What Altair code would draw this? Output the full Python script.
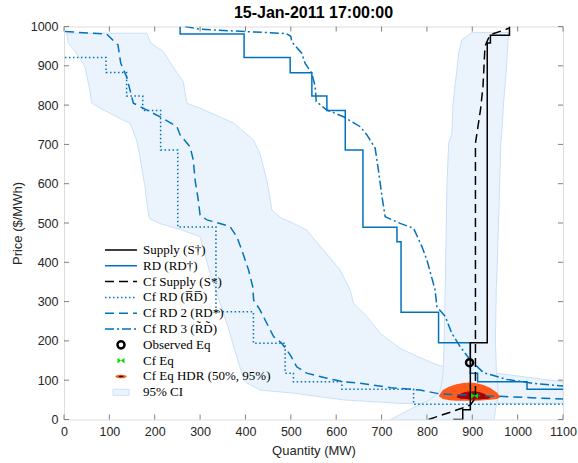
import altair as alt
import pandas as pd

# ---------------- data ----------------
x_ticks = [0, 100, 200, 300, 400, 500, 600, 700, 800, 900, 1000, 1100]
y_ticks = [0, 100, 200, 300, 400, 500, 600, 700, 800, 900, 1000]

# Supply (S-dagger), stepped
supply_q = [858, 879, 895.7, 933, 940, 982, 982]
supply_p = [0, 0, 25, 195, 958, 978, 1000]

# RD (RD-dagger), stepped
rd_q = [256, 397, 498.6, 546.4, 579.5, 620, 659, 734, 743, 825.7, 895.7, 911.8, 1020.7, 1100]
rd_p = [1000, 981, 921, 882, 823, 786, 686, 489, 452, 273, 195, 118, 96, 77]

# Cf Supply (S*)
cfs_q = [803.6, 877, 896, 907, 907, 918, 923.6, 928, 934, 940, 982]
cfs_p = [0, 28.5, 37, 55, 703, 787, 847, 949, 966, 979, 996]

# Cf RD (RD bar), stepped
cfrd_q = [2, 92.6, 138, 173.6, 213, 250.8, 335, 417.6, 487.5, 505.8, 612.6, 770.6, 1100]
cfrd_p = [921, 921, 883, 823, 786, 686, 490, 274, 194, 118, 96, 77, 38.7]

# Cf RD 2 (RD*)
cfrd2_q = [2.2, 94, 119, 125, 138, 153, 212, 249, 256, 278, 285, 289, 296, 300, 315, 337,
           366, 381, 392, 407, 416, 418, 432, 451, 462, 480, 499, 513, 535, 580, 616, 653,
           720, 785, 829, 896, 1100]
cfrd2_p = [987, 981, 953, 907, 872, 805, 770, 745, 724, 694, 660, 609, 558, 520, 508, 501,
           491, 465, 431, 380, 338, 304, 279, 236, 211, 194, 164, 134, 118, 105, 96, 92,
           81, 75, 65, 62, 52]

# Cf RD 3 (RD tilde)
cfrd3_q = [267, 300, 490, 500, 502, 524, 531.6, 546.4, 553.7, 556, 579.5, 616, 653, 667.8,
           686, 693, 701, 708, 741, 770.6, 789, 800, 818, 822, 840.5, 855, 873.6, 895.7,
           925, 976.6, 1035, 1100]
cfrd3_p = [1000, 993, 982, 975, 961, 932, 906, 881, 847, 809, 787.5, 770.5, 745, 724,
           690, 635, 567, 516, 499, 486.5, 440, 406, 330, 287, 262, 219, 185, 151,
           119, 102, 92, 85]

# 95% CI band around the Cf RD curves (per price level: left / right quantity)
band1_p = [983, 957, 936, 898, 889, 860, 838, 805, 792, 762, 754, 711, 677, 609, 592, 558,
           533, 512, 499, 491, 482, 465, 431, 380, 372, 330, 296, 262, 219, 194, 181, 160,
           140, 130, 118, 96, 95, 75, 67, 50, 41]
band1_lo = [6, 9.6, 25, 46, 48, 53, 57, 61, 80, 130, 145.6, 160, 166, 176, 178.7, 182,
            185, 188, 210, 234, 260, 300, 308, 320, 322, 334, 344, 354, 366, 372, 375, 381,
            386, 389, 392, 399, 400, 432, 506, 616, 741]
band1_hi = [182, 192, 219, 240, 245, 263, 266, 270.7, 300, 359, 374, 417.6, 432, 447, 450, 455,
            458, 480, 506, 520, 535, 547, 572, 609, 612, 631, 638, 668, 697, 726, 741, 780,
            820, 850, 950, 1100, 1100, 1100, 1100, 1100, 1100]

# 95% CI band around the Cf Supply curve
band2_p = [985, 966, 932, 889, 805, 728, 703, 592, 508, 380, 338, 202, 126, 100, 70, 50, 30, 0]
band2_lo = [900, 877, 870, 866, 857.5, 855, 848, 844, 843, 841, 840.5, 838, 836, 834, 828, 805, 770, 720]
band2_hi = [980, 979, 977, 975, 969, 965, 963, 960, 958, 954.6, 953, 951, 953, 955, 957, 955, 952, 948]

# Cf Eq HDR regions
hdr95_q = [826, 835, 850, 865, 880, 895, 910, 925, 940, 955, 962]
hdr95_hi = [60, 75, 84, 90, 93, 94, 92, 88, 80, 68, 57]
hdr95_lo = [60, 52, 49, 48, 47.5, 47.5, 48, 49, 50, 52, 57]
hdr50_q = [866, 875, 885, 895, 905, 915, 925, 935, 940]
hdr50_hi = [60, 66, 70, 72, 72, 70, 66, 60, 56]
hdr50_lo = [56, 53, 52, 51, 51, 51, 52, 53, 55]

obs_q = [894]
obs_p = [144.5]
cfeq_q = [905]
cfeq_p = [60]

legend_labels = ["Supply (S†)", "RD (RD†)", "Cf Supply (S*)", "Cf RD (R̅D̅)",
                 "Cf RD 2 (RD*)", "Cf RD 3 (R̃D̃)", "Observed Eq", "Cf Eq",
                 "Cf Eq HDR (50%, 95%)", "95% CI"]

# ---------------- styling ----------------
BLUE = "#0072BD"
BAND_FILL = "#EBF4FD"
BAND_STROKE = "#C9E0F7"
AX_COL = "#262626"
FRAME = "#808080"
W, H = 499, 393

xs = alt.Scale(domain=[0, 1100], nice=False, zero=False)
ys = alt.Scale(domain=[0, 1000], nice=False, zero=False)
xa = alt.Axis(values=x_ticks, format="d", title="Quantity (MW)", domain=False, ticks=False,
              grid=False, labelFont="Liberation Sans", labelFontSize=12.5, labelColor=AX_COL,
              labelPadding=6, labelFlush=False, titleFont="Liberation Sans", titleFontSize=13,
              titleFontWeight="normal", titleColor=AX_COL, titlePadding=6)
ya = alt.Axis(values=y_ticks, format="d", title="Price ($/MWh)", domain=False, ticks=False,
              grid=False, labelFont="Liberation Sans", labelFontSize=12.5, labelColor=AX_COL,
              labelPadding=6, labelFlush=False, titleFont="Liberation Sans", titleFontSize=13,
              titleFontWeight="normal", titleColor=AX_COL, titlePadding=6)


def X(f):
    return alt.X(f, scale=xs, axis=xa)


def Y(f):
    return alt.Y(f, scale=ys, axis=ya)


def line_layer(q, p, color, dash, interp="linear"):
    df = pd.DataFrame({"q": q, "p": p, "i": list(range(len(q)))})
    return alt.Chart(df).mark_line(color=color, strokeDash=dash, strokeWidth=1.5,
                                   interpolate=interp, clip=True).encode(
        x=X("q:Q"), y=Y("p:Q"), order="i:Q")


band1 = alt.Chart(pd.DataFrame({"p": band1_p, "lo": band1_lo, "hi": band1_hi})).mark_area(
    orient="horizontal", fill=BAND_FILL, stroke=BAND_STROKE, strokeWidth=1, clip=True).encode(
    y=Y("p:Q"), x=X("lo:Q"), x2="hi:Q")
band2 = alt.Chart(pd.DataFrame({"p": band2_p, "lo": band2_lo, "hi": band2_hi})).mark_area(
    orient="horizontal", fill=BAND_FILL, stroke=BAND_STROKE, strokeWidth=1, clip=True).encode(
    y=Y("p:Q"), x=X("lo:Q"), x2="hi:Q")

hdr95 = alt.Chart(pd.DataFrame({"q": hdr95_q, "hi": hdr95_hi, "lo": hdr95_lo})).mark_area(
    fill="#FF5A1A", clip=True).encode(x=X("q:Q"), y=Y("hi:Q"), y2="lo:Q")
hdr50 = alt.Chart(pd.DataFrame({"q": hdr50_q, "hi": hdr50_hi, "lo": hdr50_lo})).mark_area(
    fill="#A80000", clip=True).encode(x=X("q:Q"), y=Y("hi:Q"), y2="lo:Q")

DASH = [9, 5]
DOT = [1.5, 2.5]
DASHDOT = [9, 3, 2, 3]

l_cfrd = line_layer(cfrd_q, cfrd_p, BLUE, DOT, "step-before")
l_cfrd2 = line_layer(cfrd2_q, cfrd2_p, BLUE, DASH)
l_cfrd3 = line_layer(cfrd3_q, cfrd3_p, BLUE, DASHDOT)
l_rd = line_layer(rd_q, rd_p, BLUE, [1, 0], "step-before")
l_cfs = line_layer(cfs_q, cfs_p, "black", DASH)
l_sup = line_layer(supply_q, supply_p, "black", [1, 0], "step-before")

BOWTIE = "M-1,-0.8L1,0.8L1,-0.8L-1,0.8Z"
obs = alt.Chart(pd.DataFrame({"q": obs_q, "p": obs_p})).mark_point(
    shape="circle", filled=False, color="black", strokeWidth=2.5, size=50, opacity=1).encode(
    x=X("q:Q"), y=Y("p:Q"))
cfeq = alt.Chart(pd.DataFrame({"q": cfeq_q, "p": cfeq_p})).mark_point(
    shape=BOWTIE, filled=True, color="#00E000", size=50, opacity=1).encode(
    x=X("q:Q"), y=Y("p:Q"))

# inside ticks (MATLAB box style)
xt = pd.DataFrame({"t": x_ticks})
yt = pd.DataFrame({"t": y_ticks})
tick_style = dict(color=FRAME, strokeWidth=1)
xt_bot = alt.Chart(xt).mark_rule(**tick_style).encode(x=X("t:Q"), y=alt.value(H), y2=alt.value(H - 5))
xt_top = alt.Chart(xt).mark_rule(**tick_style).encode(x=X("t:Q"), y=alt.value(0), y2=alt.value(5))
yt_l = alt.Chart(yt).mark_rule(**tick_style).encode(y=Y("t:Q"), x=alt.value(0), x2=alt.value(5))
yt_r = alt.Chart(yt).mark_rule(**tick_style).encode(y=Y("t:Q"), x=alt.value(W), x2=alt.value(W - 5))

data_layers = alt.layer(band1, band2, hdr95, hdr50, l_cfrd, l_cfrd2, l_cfrd3, l_rd, l_cfs,
                        l_sup, obs, cfeq, xt_bot, xt_top, yt_l, yt_r)

# ---------------- legend ----------------
leg = pd.DataFrame({"label": legend_labels, "idx": list(range(len(legend_labels)))})
ly = alt.Y("idx:Q", scale=alt.Scale(domain=[0, 9], range=[223.5, 365.8]), axis=None)
LX0, LX1, LXM, LXT = 41, 73, 57, 79

leg_lines = alt.Chart(leg.iloc[:6]).mark_rule(strokeWidth=1.5).encode(
    x=alt.value(LX0), x2=alt.value(LX1), y=ly,
    color=alt.Color("label:N", legend=None, scale=alt.Scale(
        domain=legend_labels[:6], range=["black", BLUE, "black", BLUE, BLUE, BLUE])),
    strokeDash=alt.StrokeDash("label:N", legend=None, scale=alt.Scale(
        domain=legend_labels[:6], range=[[1, 0], [1, 0], DASH, DOT, DASH, DASHDOT])))
leg_obs = alt.Chart(leg.iloc[[6]]).mark_point(
    shape="circle", filled=False, color="black", strokeWidth=2.5, size=50, opacity=1).encode(
    x=alt.value(LXM), y=ly)
leg_cfeq = alt.Chart(leg.iloc[[7]]).mark_point(
    shape=BOWTIE, filled=True, color="#00E000", size=50, opacity=1).encode(
    x=alt.value(LXM), y=ly)
leg_hdr = alt.Chart(leg.iloc[[8]]).mark_point(
    shape="M-1.4,0A1.4,0.45,0,1,0,1.4,0A1.4,0.45,0,1,0,-1.4,0Z", filled=True,
    color="#FF5A1A", size=64, opacity=1).encode(x=alt.value(LXM), y=ly)
leg_hdr2 = alt.Chart(leg.iloc[[8]]).mark_point(
    shape="M-1.4,0A1.4,0.45,0,1,0,1.4,0A1.4,0.45,0,1,0,-1.4,0Z", filled=True,
    color="black", size=12, opacity=1).encode(x=alt.value(LXM), y=ly)
leg_ci = alt.Chart(leg.iloc[[9]]).mark_point(
    shape="M-2,-0.75H2V0.75H-2Z", filled=True, fill=BAND_FILL, stroke=BAND_STROKE,
    strokeWidth=1, size=64, opacity=1).encode(x=alt.value(LXM), y=ly)
leg_text = alt.Chart(leg).mark_text(
    align="left", baseline="middle", font="Liberation Serif", fontSize=13, color="black").encode(
    x=alt.value(LXT), y=ly, text="label:N")

legend_layers = alt.layer(leg_lines, leg_obs, leg_cfeq, leg_hdr, leg_hdr2, leg_ci, leg_text)

chart = alt.layer(data_layers, legend_layers).resolve_scale(y="independent").properties(
    width=W, height=H,
    title=alt.TitleParams("15-Jan-2011 17:00:00", font="Liberation Sans", fontSize=16,
                          fontWeight="bold", color="black", offset=0, anchor="middle"),
    autosize=alt.AutoSizeParams(type="none"),
    padding={"left": 64, "top": 26.5, "right": 15, "bottom": 43.5},
).configure_view(stroke=FRAME, strokeWidth=1).configure(background="white")

chart.save("out.html", embed_options={"renderer": "svg", "actions": False})
